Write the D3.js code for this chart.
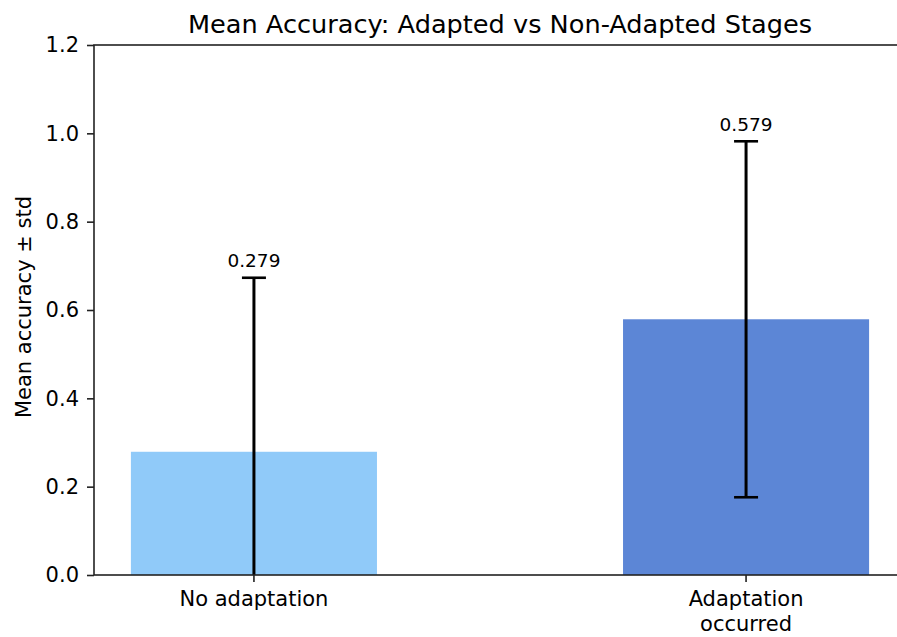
<!DOCTYPE html>
<html>
<head>
<meta charset="utf-8">
<script src="https://cdn.jsdelivr.net/npm/d3@7"></script>
<style>
  html, body { margin: 0; padding: 0; background: #fff; }
  svg { display: block; }
  svg text { font-family: "DejaVu Sans", sans-serif; }
</style>
</head>
<body>
<svg id="chart" width="897" height="637"></svg>
<script>
// Stage groups and their accuracy summary
const categories = ["No adaptation", "Adaptation occurred"];
const categoryLines = [["No adaptation"], ["Adaptation", "occurred"]];
const meanAccuracy = [0.279, 0.579];
const stdAccuracy = [0.394, 0.403];
const barColors = ["#90CAF9", "#5C86D6"];
const yTicks = [0.0, 0.2, 0.4, 0.6, 0.8, 1.0, 1.2];

const FONT = "DejaVu Sans";
const TICK_SIZE = 21;
const margin = { left: 94, top: 45, right: -9, bottom: 62 };
const width = 897, height = 637;
const plotW = width - margin.left - margin.right;
const plotH = height - margin.top - margin.bottom;

const svg = d3.select("#chart");
const g = svg.append("g").attr("transform", `translate(${margin.left},${margin.top})`);

const x = d3.scaleBand()
  .domain(categories)
  .range([0, plotW])
  .paddingInner(0.5)
  .paddingOuter(0.075);

const y = d3.scaleLinear().domain([0, 1.2]).range([plotH, 0]);

g.append("clipPath").attr("id", "plot-clip")
  .append("rect").attr("width", plotW).attr("height", plotH);

const plot = g.append("g").attr("clip-path", "url(#plot-clip)");

// Bars
plot.selectAll("rect.bar")
  .data(categories)
  .join("rect")
  .attr("class", "bar")
  .attr("x", d => x(d))
  .attr("width", x.bandwidth())
  .attr("y", (d, i) => y(meanAccuracy[i]))
  .attr("height", (d, i) => y(0) - y(meanAccuracy[i]))
  .attr("fill", (d, i) => barColors[i]);

// Error bars (± one standard deviation)
const cap = 12;
const err = plot.selectAll("g.err")
  .data(categories)
  .join("g")
  .attr("class", "err")
  .attr("stroke", "#000")
  .attr("stroke-width", 3);

err.append("line")
  .attr("x1", d => x(d) + x.bandwidth() / 2)
  .attr("x2", d => x(d) + x.bandwidth() / 2)
  .attr("y1", (d, i) => y(meanAccuracy[i] - stdAccuracy[i]))
  .attr("y2", (d, i) => y(meanAccuracy[i] + stdAccuracy[i]));

[-1, 1].forEach(sign => {
  err.append("line")
    .attr("x1", d => x(d) + x.bandwidth() / 2 - cap)
    .attr("x2", d => x(d) + x.bandwidth() / 2 + cap)
    .attr("y1", (d, i) => y(meanAccuracy[i] + sign * stdAccuracy[i]))
    .attr("y2", (d, i) => y(meanAccuracy[i] + sign * stdAccuracy[i]))
    .attr("stroke-width", 2.6);
});

// Value labels above the error bars
g.selectAll("text.value")
  .data(categories)
  .join("text")
  .attr("class", "value")
  .attr("x", d => x(d) + x.bandwidth() / 2)
  .attr("y", (d, i) => y(meanAccuracy[i] + stdAccuracy[i] + 0.024))
  .attr("text-anchor", "middle")
  .attr("font-family", FONT)
  .attr("font-size", 18.5)
  .attr("fill", "#000")
  .text((d, i) => meanAccuracy[i].toFixed(3));

// Y axis
const yAxis = g.append("g")
  .call(d3.axisLeft(y).tickValues(yTicks).tickFormat(d3.format(".1f")).tickSize(7).tickPadding(8));
yAxis.attr("font-family", FONT).attr("font-size", TICK_SIZE);
yAxis.selectAll("text").attr("fill", "#000");

// X axis
const xAxis = g.append("g")
  .attr("transform", `translate(0,${plotH})`)
  .call(d3.axisBottom(x).tickSize(7).tickFormat(""));
xAxis.attr("font-family", FONT).attr("font-size", TICK_SIZE);
categories.forEach((c, i) => {
  const t = xAxis.append("text")
    .attr("x", x(c) + x.bandwidth() / 2)
    .attr("y", 31)
    .attr("text-anchor", "middle")
    .attr("font-family", FONT)
    .attr("font-size", TICK_SIZE)
    .attr("fill", "#000");
  categoryLines[i].forEach((line, j) => {
    t.append("tspan")
      .attr("x", x(c) + x.bandwidth() / 2)
      .attr("dy", j === 0 ? 0 : 25)
      .text(line);
  });
});

[yAxis, xAxis].forEach(a => {
  a.select(".domain").remove();
  a.selectAll(".tick line").attr("stroke", "#222").attr("stroke-width", 1.6);
});

// Frame (all four spines)
g.append("rect")
  .attr("width", plotW)
  .attr("height", plotH)
  .attr("fill", "none")
  .attr("stroke", "#222")
  .attr("stroke-width", 1.6);

// Axis title
svg.append("text")
  .attr("transform", `translate(31,${margin.top + plotH / 2 - 3}) rotate(-90)`)
  .attr("text-anchor", "middle")
  .attr("font-family", FONT)
  .attr("font-size", 21)
  .attr("fill", "#000")
  .text("Mean accuracy ± std");

// Chart title
svg.append("text")
  .attr("x", margin.left + plotW / 2)
  .attr("y", 33)
  .attr("text-anchor", "middle")
  .attr("font-family", FONT)
  .attr("font-size", 25.6)
  .attr("fill", "#000")
  .text("Mean Accuracy: Adapted vs Non-Adapted Stages");
</script>
</body>
</html>
